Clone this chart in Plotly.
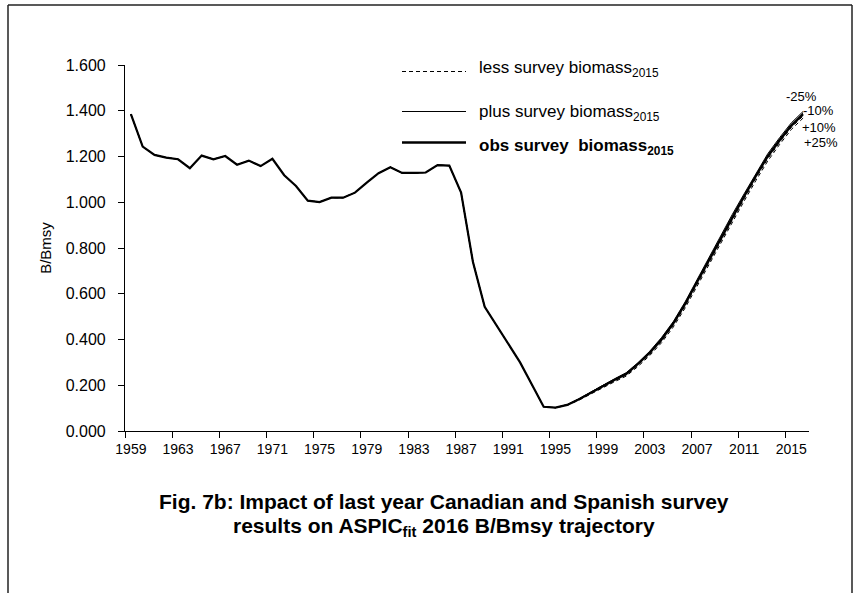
import plotly.graph_objects as go

# ---------------- data ----------------
years = list(range(1959, 2017))

# B/Bmsy common to every run, 1959-1995
shared_1959_1995 = [1.385, 1.243, 1.207, 1.195, 1.188, 1.149, 1.204, 1.188, 1.202, 1.164,
                    1.182, 1.158, 1.190, 1.118, 1.071, 1.007, 1.001, 1.020, 1.020, 1.042,
                    1.086, 1.127, 1.153, 1.128, 1.128, 1.130, 1.162, 1.160, 1.042, 0.740,
                    0.543, 0.460, 0.380, 0.300, 0.203, 0.106, 0.102]

# 1996-2016 for each run
obs_tail = [0.114, 0.139, 0.168, 0.197, 0.223, 0.249, 0.293, 0.342, 0.400, 0.470,
            0.555, 0.650, 0.745, 0.840, 0.935, 1.025, 1.115, 1.200, 1.270, 1.335, 1.385]
less25_tail = [0.112, 0.135, 0.162, 0.190, 0.215, 0.240, 0.282, 0.330, 0.386, 0.455,
               0.538, 0.632, 0.726, 0.820, 0.915, 1.005, 1.095, 1.180, 1.252, 1.318, 1.368]
less10_tail = [0.113, 0.137, 0.165, 0.194, 0.219, 0.245, 0.288, 0.336, 0.393, 0.463,
               0.547, 0.641, 0.736, 0.830, 0.925, 1.015, 1.105, 1.190, 1.261, 1.327, 1.377]
plus10_tail = [0.115, 0.140, 0.170, 0.199, 0.226, 0.252, 0.296, 0.346, 0.405, 0.475,
               0.560, 0.656, 0.751, 0.846, 0.941, 1.031, 1.121, 1.206, 1.276, 1.341, 1.391]
plus25_tail = [0.116, 0.141, 0.171, 0.201, 0.228, 0.255, 0.299, 0.349, 0.409, 0.479,
               0.565, 0.661, 0.757, 0.852, 0.947, 1.037, 1.127, 1.212, 1.282, 1.347, 1.397]

tick_years = list(range(1959, 2016, 4))
tick_labels = [str(y) for y in tick_years]
y_ticks = [0.0, 0.2, 0.4, 0.6, 0.8, 1.0, 1.2, 1.4, 1.6]

pct_labels = ["-25%", "-10%", "+10%", "+25%"]

legend_labels = ["less survey biomass<sub>2015</sub>",
                 "plus survey biomass<sub>2015</sub>",
                 "<b>obs survey&nbsp; biomass<sub>2015</sub></b>"]
title_lines = ["<b>Fig. 7b: Impact of last year Canadian and Spanish survey</b>",
               "<b>results on ASPIC<sub>fit</sub> 2016 B/Bmsy trajectory</b>"]

# ---------------- layout geometry (pixels) ----------------
W, H = 857, 593
L, R, T, B = 125, 809, 65, 431


def px(x):
    return (x - L) / (R - L)


def py(y):
    return (B - y) / (B - T)


FONT = "Liberation Sans, Arial, sans-serif"

fig = go.Figure()

DASH = "4px,3px"
series = [
    (shared_1959_1995 + less25_tail, dict(color="black", width=1, dash=DASH)),
    (shared_1959_1995 + less10_tail, dict(color="black", width=1, dash=DASH)),
    (shared_1959_1995 + plus10_tail, dict(color="black", width=1)),
    (shared_1959_1995 + plus25_tail, dict(color="black", width=1)),
    (shared_1959_1995 + obs_tail, dict(color="black", width=2.2)),
]
for vals, ln in series:
    fig.add_trace(go.Scatter(x=years, y=vals, mode="lines", line=ln,
                             showlegend=False, hoverinfo="skip"))

shapes = []
# outer frame (open at the bottom)
for (x0, y0, x1, y1) in [(8, 5, 8, 605), (8, 5, 852, 5), (852, 5, 852, 605)]:
    shapes.append(dict(type="line", xref="paper", yref="paper",
                       x0=px(x0), y0=py(y0), x1=px(x1), y1=py(y1),
                       line=dict(color="#222", width=1.5)))
# legend samples
leg_y = [71.5, 111.5, 142.5]
leg_styles = [dict(color="black", width=1, dash=DASH),
              dict(color="black", width=1),
              dict(color="black", width=2.5)]
for yy, st in zip(leg_y, leg_styles):
    shapes.append(dict(type="line", xref="paper", yref="paper",
                       x0=px(402), x1=px(466), y0=py(yy), y1=py(yy), line=st))

annotations = []
leg_text_y = [69, 113, 147]
for yy, txt in zip(leg_text_y, legend_labels):
    annotations.append(dict(xref="paper", yref="paper", x=px(477), y=py(yy),
                            xanchor="left", yanchor="middle", text=txt, showarrow=False,
                            font=dict(family=FONT, size=17, color="black")))

pct_pos = [(801, 96), (818, 110), (819, 128), (821, 142)]
for (xx, yy), txt in zip(pct_pos, pct_labels):
    annotations.append(dict(xref="paper", yref="paper", x=px(xx), y=py(yy),
                            xanchor="center", yanchor="middle", text=txt, showarrow=False,
                            font=dict(family=FONT, size=13, color="black")))

for yy, txt in zip([501, 527], title_lines):
    annotations.append(dict(xref="paper", yref="paper", x=px(444), y=py(yy),
                            xanchor="center", yanchor="middle", text=txt,
                            showarrow=False, align="center",
                            font=dict(family=FONT, size=21, color="black")))

fig.update_layout(
    width=W, height=H,
    margin=dict(l=L, r=W - R, t=T, b=H - B, pad=0),
    paper_bgcolor="white", plot_bgcolor="white",
    font=dict(family=FONT, color="black"),
    shapes=shapes, annotations=annotations,
    showlegend=False,
)

fig.update_xaxes(
    range=[1958.5, 2016.5], showgrid=False, zeroline=False,
    showline=True, linecolor="black", linewidth=1.2,
    tickmode="array", tickvals=tick_years, ticktext=tick_labels, ticks="",
    ticklabelstandoff=5,
    tickfont=dict(family=FONT, size=14, color="black"),
    minor=dict(tickmode="array", tickvals=[y - 0.5 for y in tick_years],
               ticks="outside", ticklen=6, tickcolor="black", tickwidth=1.2),
)
fig.update_yaxes(
    range=[0, 1.6], showgrid=False, zeroline=False,
    showline=True, linecolor="black", linewidth=1.2,
    tickmode="array", tickvals=y_ticks, tickformat=".3f",
    ticks="outside", ticklen=6, tickcolor="black", tickwidth=1.2,
    ticklabelstandoff=9,
    tickfont=dict(family=FONT, size=16, color="black"),
    title=dict(text="B/Bmsy", font=dict(family=FONT, size=15, color="black"), standoff=10),
)

fig.write_html("out.html", config={"displayModeBar": False},
               post_script="document.body.style.margin='0';")
